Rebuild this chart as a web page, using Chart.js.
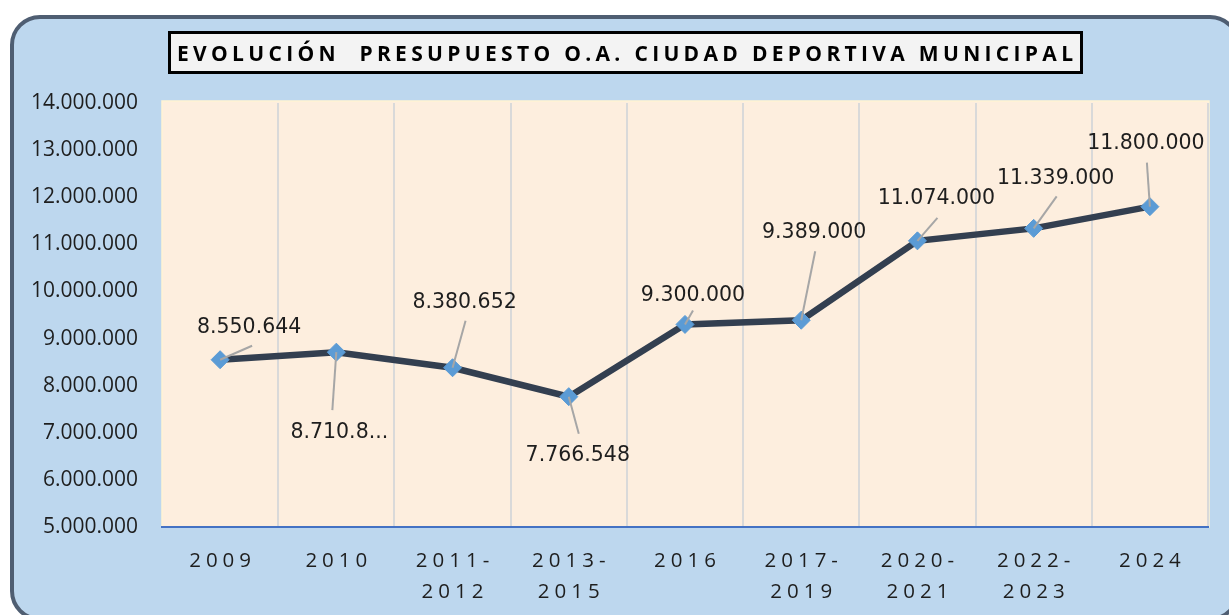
<!DOCTYPE html>
<html>
<head>
<meta charset="utf-8">
<script src="https://cdn.jsdelivr.net/npm/chart.js@4.4.1/dist/chart.umd.min.js"></script>
<style>
  html, body { margin: 0; padding: 0; background: #ffffff; }
  canvas { display: block; }
</style>
</head>
<body>
<canvas id="c" width="1229" height="615"></canvas>
<script>
// ---------------- data ----------------
const chartTitle = 'EVOLUCIÓN  PRESUPUESTO O.A. CIUDAD DEPORTIVA MUNICIPAL';
const categories = ['2009', '2010', ['2011-', '2012'], ['2013-', '2015'], '2016',
                    ['2017-', '2019'], ['2020-', '2021'], ['2022-', '2023'], '2024'];
const budget = [8550644, 8710800, 8380652, 7766548, 9300000, 9389000, 11074000, 11339000, 11800000];
const pointLabels = ['8.550.644', '8.710.8...', '8.380.652', '7.766.548', '9.300.000',
                     '9.389.000', '11.074.000', '11.339.000', '11.800.000'];
const yMin = 5000000;
const yMax = 14000000;
const yStep = 1000000;

// ---------------- style ----------------
// label centre offset (dx, dy) and leader end offset (lx, ly), relative to each point
const labelLayout = [
  [29, -32, 32, -14],
  [3, 80, -4, 58],
  [12, -65, 13, -47],
  [9, 59, 10, 37],
  [8, -29, 8, -14],
  [13, -88, 14, -69],
  [19, -42, 20, -23],
  [22, -50, 23, -32],
  [-4, -63, -3, -44]
];
const X_SPACING = 5;
const TEXT_COLOR = '#1E1E1E';

function fmtThousands(v) {
  return String(Math.round(v)).replace(/\B(?=(\d{3})+(?!\d))/g, '.');
}

class SpacedCategoryScale extends Chart.CategoryScale {
  drawLabels(area) {
    const ctx = this.ctx;
    ctx.save();
    ctx.letterSpacing = X_SPACING + 'px';
    ctx.translate(X_SPACING / 2, 0);
    super.drawLabels(area);
    ctx.restore();
  }
}
SpacedCategoryScale.id = 'spacedCategory';
SpacedCategoryScale.defaults = Chart.CategoryScale.defaults;
Chart.register(SpacedCategoryScale);

const framePlugin = {
  id: 'frame',
  beforeDraw(chart) {
    const ctx = chart.ctx;
    const a = chart.chartArea;
    ctx.save();
    // outer panel
    ctx.beginPath();
    ctx.roundRect(12, 17, 1226, 602, 28);
    ctx.fillStyle = '#BDD7EE';
    ctx.fill();
    ctx.lineWidth = 4;
    ctx.strokeStyle = '#4F5E72';
    ctx.stroke();
    // plot area
    ctx.fillStyle = '#FDEEDE';
    ctx.fillRect(a.left, a.top - 2, a.right - a.left + 1, a.bottom - a.top + 2);
    ctx.lineWidth = 1.5;
    ctx.strokeStyle = '#FFF3D4';
    ctx.strokeRect(a.left, a.top - 2, a.right - a.left + 1, a.bottom - a.top + 2);
    // title box
    ctx.fillStyle = '#F3F3F3';
    ctx.fillRect(169.5, 32.5, 912, 40);
    ctx.lineWidth = 3;
    ctx.strokeStyle = '#000000';
    ctx.strokeRect(169.5, 32.5, 912, 40);
    // title text
    ctx.font = 'bold 21px "Open Sans"';
    ctx.letterSpacing = '0px';
    const w = ctx.measureText(chartTitle).width;
    const s = (896 - w) / (chartTitle.length - 1);
    ctx.letterSpacing = s + 'px';
    ctx.fillStyle = '#000000';
    ctx.textAlign = 'left';
    ctx.textBaseline = 'middle';
    ctx.fillText(chartTitle, 177, 55);
    ctx.restore();
  }
};

const labelPlugin = {
  id: 'pointLabelsLeader',
  afterDatasetsDraw(chart) {
    const ctx = chart.ctx;
    const meta = chart.getDatasetMeta(0);
    ctx.save();
    meta.data.forEach((pt, i) => {
      const [dx, dy, lx, ly] = labelLayout[i];
      ctx.beginPath();
      ctx.moveTo(pt.x, pt.y);
      ctx.lineTo(pt.x + lx, pt.y + ly);
      ctx.lineWidth = 2;
      ctx.strokeStyle = '#A6A6A6';
      ctx.stroke();
      ctx.font = '20.5px "DejaVu Sans"';
      ctx.fillStyle = TEXT_COLOR;
      ctx.textAlign = 'center';
      ctx.textBaseline = 'middle';
      ctx.fillText(pointLabels[i], pt.x + dx, pt.y + dy);
    });
    ctx.restore();
  }
};

new Chart(document.getElementById('c'), {
  type: 'line',
  data: {
    labels: categories,
    datasets: [{
      data: budget,
      borderColor: '#333F50',
      borderWidth: 6.5,
      tension: 0,
      pointStyle: 'rectRot',
      pointRadius: 9,
      pointHoverRadius: 9,
      pointBackgroundColor: '#5B9BD5',
      pointBorderColor: '#5B9BD5',
      pointBorderWidth: 1
    }]
  },
  options: {
    responsive: false,
    animation: false,
    layout: { padding: { top: 103, right: 21, bottom: 0, left: 0 } },
    plugins: {
      legend: { display: false },
      tooltip: { enabled: false },
      title: { display: false }
    },
    scales: {
      x: {
        type: 'spacedCategory',
        offset: true,
        grid: {
          offset: true,
          drawTicks: false,
          lineWidth: 2,
          color: (c) => (c.index === 0 || c.index === categories.length) ? 'rgba(0,0,0,0)' : '#D9D9D9'
        },
        border: { display: true, color: '#4472C4', width: 2 },
        ticks: {
          padding: 19,
          color: TEXT_COLOR,
          maxRotation: 0,
          autoSkip: false,
          font: { family: 'Open Sans', size: 20.5, lineHeight: 1.5 }
        },
        afterFit(s) { s.height = 88; }
      },
      y: {
        min: yMin,
        max: yMax,
        grid: { display: false, drawTicks: false },
        border: { display: false },
        ticks: {
          stepSize: yStep,
          padding: 24,
          color: TEXT_COLOR,
          font: { family: 'Open Sans', size: 21 },
          callback: (v) => fmtThousands(v)
        },
        afterFit(s) { s.width = 162; }
      }
    }
  },
  plugins: [framePlugin, labelPlugin]
});
</script>
</body>
</html>
